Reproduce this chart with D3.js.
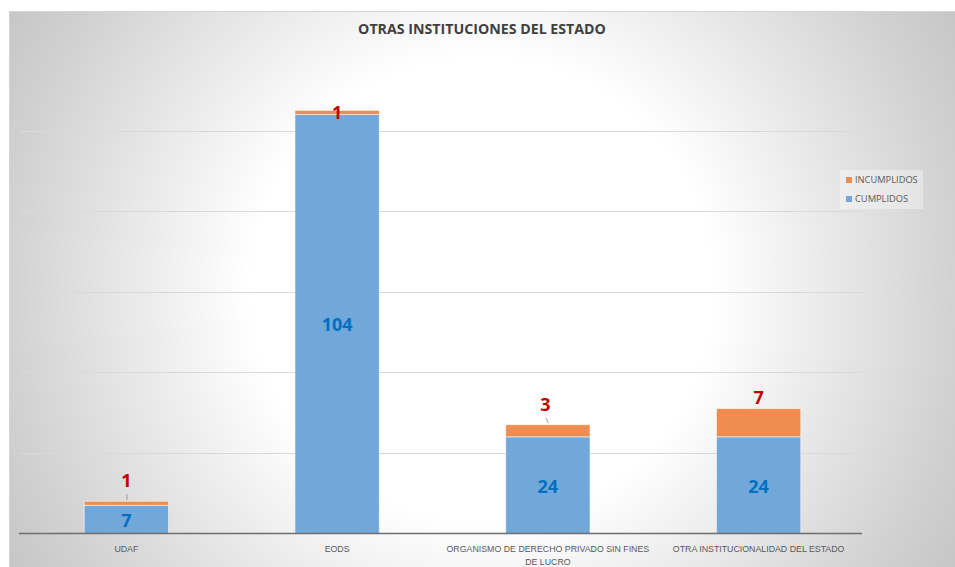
<!DOCTYPE html>
<html>
<head>
<meta charset="utf-8">
<script src="https://cdnjs.cloudflare.com/ajax/libs/d3/7.8.5/d3.min.js"></script>
<style>
    html, body { margin: 0; padding: 0; background: #fff; }
    svg { display: block; font-family: "Open Sans", sans-serif; }
</style>
</head>
<body>
<div id="chart"></div>
<script>
// Chart data
var categories = ['UDAF', 'EODS', 'ORGANISMO DE DERECHO PRIVADO SIN FINES DE LUCRO', 'OTRA INSTITUCIONALIDAD DEL ESTADO'];
var cumplidos = [7, 104, 24, 24];
var incumplidos = [1, 1, 3, 7];
var legendNames = ['INCUMPLIDOS', 'CUMPLIDOS'];
var yTicks = [20, 40, 60, 80, 100];
var chartTitle = 'OTRAS INSTITUCIONES DEL ESTADO';

(function(d3) {
    'use strict';

    var width = 955,
        height = 567;

    var frame = {left: 9, top: 11},
        plot = {left: 19, right: 862, top: 50, bottom: 533.5};

    var colors = {CUMPLIDOS: '#72a7da', INCUMPLIDOS: '#ee8d4f'};

    // How far the red labels sit above each bar (Excel placed them by hand)
    var labelLift = [14, -9, 14, 5],
        labelShift = [0, 0, -2.5, 0];

    var rows = categories.map(function(c, i) {
        return {cat: c, CUMPLIDOS: cumplidos[i], INCUMPLIDOS: incumplidos[i]};
    });

    var stacked = d3.stack().keys(['CUMPLIDOS', 'INCUMPLIDOS'])(rows);

    // band range nudged a little right to sit where Excel drew the bars
    var x = d3.scaleBand()
        .domain(categories)
        .range([plot.left + 2, plot.right + 2])
        .paddingInner(0.6)
        .paddingOuter(0.3);

    var y = d3.scaleLinear()
        .domain([0, 120])
        .range([plot.bottom, plot.top]);

    var svg = d3.select('#chart').append('svg')
        .attr('width', width)
        .attr('height', height);

    // Background with radial gradient
    var grad = svg.append('defs').append('radialGradient')
        .attr('id', 'bgGrad')
        .attr('gradientUnits', 'userSpaceOnUse')
        .attr('cx', 482).attr('cy', 289).attr('r', 550);
    grad.append('stop').attr('offset', '0').attr('stop-color', '#ffffff');
    grad.append('stop').attr('offset', '0.42').attr('stop-color', '#ffffff');
    grad.append('stop').attr('offset', '0.87').attr('stop-color', '#d1d1d1');
    grad.append('stop').attr('offset', '1').attr('stop-color', '#c6c6c6');

    svg.append('rect')
        .attr('x', frame.left + 0.5)
        .attr('y', frame.top + 0.5)
        .attr('width', width - frame.left + 5)
        .attr('height', height - frame.top + 5)
        .attr('fill', 'url(#bgGrad)')
        .attr('stroke', '#d4d4d4');

    // Title
    svg.append('text')
        .attr('x', 482)
        .attr('y', 34)
        .attr('text-anchor', 'middle')
        .attr('font-size', '14.2px')
        .attr('font-weight', 'bold')
        .attr('fill', '#404040')
        .text(chartTitle);

    // Gridlines
    svg.append('g')
        .attr('class', 'grid')
        .selectAll('line')
        .data(yTicks)
        .enter().append('line')
        .attr('x1', plot.left)
        .attr('x2', plot.right)
        .attr('y1', function(d) { return Math.round(y(d)) + 0.5; })
        .attr('y2', function(d) { return Math.round(y(d)) + 0.5; })
        .attr('stroke', '#d9d9d9')
        .attr('stroke-width', 1);

    // Bars
    svg.append('g')
        .selectAll('g')
        .data(stacked)
        .enter().append('g')
        .attr('fill', function(s) { return colors[s.key]; })
        .selectAll('rect')
        .data(function(s) { return s; })
        .enter().append('rect')
        .attr('x', function(d) { return x(d.data.cat); })
        .attr('width', x.bandwidth())
        .attr('y', function(d) { return y(d[1]); })
        .attr('height', function(d) { return y(d[0]) - y(d[1]); })
        .attr('stroke', 'rgba(255,255,255,0.55)')
        .attr('stroke-width', 1);

    // Category axis
    var xAxis = svg.append('g')
        .attr('transform', 'translate(0,' + plot.bottom + ')')
        .call(d3.axisBottom(x).tickSize(0).tickPadding(0));
    xAxis.select('.domain')
        .attr('stroke', '#6e6e6e')
        .attr('stroke-width', 1.3)
        .attr('d', 'M' + plot.left + ',0H' + plot.right);
    xAxis.selectAll('.tick text').remove();
    xAxis.selectAll('.tick').each(function(d) {
        var t = d3.select(this).append('text')
            .attr('y', 18.5)
            .attr('text-anchor', 'middle')
            .attr('font-size', '8.8px')
            .attr('fill', '#595959');
        wrap(t, d, x.step() - 2);
    });

    // Labels for cumplidos, centred in the blue segment
    svg.append('g')
        .selectAll('text')
        .data(stacked[0])
        .enter().append('text')
        .attr('x', function(d) { return x(d.data.cat) + x.bandwidth() / 2; })
        .attr('y', function(d) { return (y(d[0]) + y(d[1])) / 2 + 1; })
        .attr('dy', '0.36em')
        .attr('text-anchor', 'middle')
        .attr('font-size', '18px')
        .attr('font-weight', 'bold')
        .attr('fill', '#0070c0')
        .text(function(d) { return d.data.CUMPLIDOS; });

    // Labels for incumplidos above each bar, with leader lines
    var red = svg.append('g')
        .selectAll('g')
        .data(stacked[1])
        .enter().append('g');

    red.append('text')
        .attr('x', function(d, i) { return x(d.data.cat) + x.bandwidth() / 2 + labelShift[i]; })
        .attr('y', function(d, i) { return y(d[1]) - labelLift[i]; })
        .attr('text-anchor', 'middle')
        .attr('font-size', '18px')
        .attr('font-weight', 'bold')
        .attr('fill', '#c00000')
        .text(function(d) { return d.data.INCUMPLIDOS; });

    red.filter(function(d, i) { return labelLift[i] > 10; })
        .append('line')
        .attr('x1', function(d) { return x(d.data.cat) + x.bandwidth() / 2 + 0.5; })
        .attr('x2', function(d) {
            var i = stacked[1].indexOf(d);
            return x(d.data.cat) + x.bandwidth() / 2 + labelShift[i] + 0.5;
        })
        .attr('y1', function(d) { return y(d[1]) - 1.5; })
        .attr('y2', function(d) { return y(d[1]) - 7; })
        .attr('stroke', '#7f7f7f')
        .attr('stroke-width', 0.8);

    // Legend
    var legend = svg.append('g')
        .attr('transform', 'translate(840,170)');
    legend.append('rect')
        .attr('width', 83)
        .attr('height', 39)
        .attr('fill', 'rgba(255,255,255,0.35)');
    var item = legend.selectAll('g')
        .data(legendNames)
        .enter().append('g')
        .attr('transform', function(d, i) { return 'translate(6,' + (7 + i * 19) + ')'; });
    item.append('rect')
        .attr('width', 6)
        .attr('height', 6)
        .attr('fill', function(d) { return colors[d]; });
    item.append('text')
        .attr('x', 9)
        .attr('y', 6.3)
        .attr('font-size', '9.3px')
        .attr('fill', '#595959')
        .text(function(d) { return d; });

    // Break long category names into lines
    function wrap(textEl, str, maxWidth) {
        var words = str.split(' '),
            line = [],
            tspan = textEl.append('tspan').attr('x', 0).attr('dy', 0);
        words.forEach(function(w) {
            line.push(w);
            tspan.text(line.join(' '));
            if (tspan.node().getComputedTextLength() > maxWidth && line.length > 1) {
                line.pop();
                tspan.text(line.join(' '));
                line = [w];
                tspan = textEl.append('tspan').attr('x', 0).attr('dy', '13px').text(w);
            }
        });
    }
}(d3));
</script>
</body>
</html>
